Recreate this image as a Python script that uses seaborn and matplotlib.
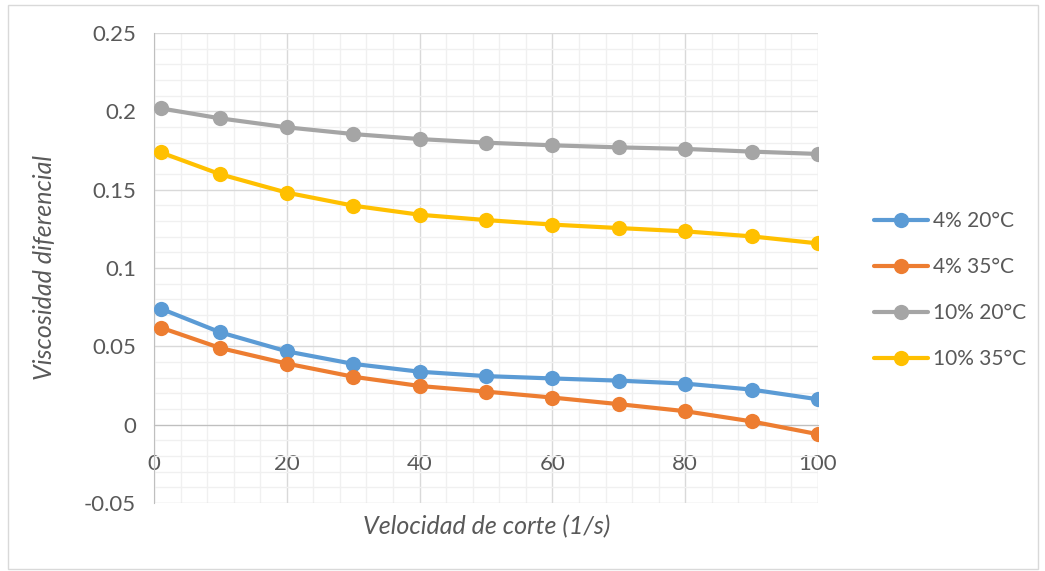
import matplotlib
matplotlib.use("Agg")
import matplotlib.pyplot as plt
import seaborn as sns
import pandas as pd
from matplotlib.patches import Rectangle
from matplotlib.ticker import MultipleLocator

shear_rate = [1, 10, 20, 30, 40, 50, 60, 70, 80, 90, 100]
s_4_20 = [0.0741, 0.0589, 0.0468, 0.0388, 0.0338, 0.0310, 0.0295, 0.0281, 0.0262, 0.0224, 0.0162]
s_4_35 = [0.0620, 0.0489, 0.0390, 0.0306, 0.0247, 0.0211, 0.0173, 0.0131, 0.0086, 0.0021, -0.0061]
s_10_20 = [0.2019, 0.1955, 0.1898, 0.1855, 0.1823, 0.1800, 0.1783, 0.1770, 0.1760, 0.1743, 0.1728]
s_10_35 = [0.1738, 0.1598, 0.1481, 0.1398, 0.1340, 0.1306, 0.1277, 0.1255, 0.1234, 0.1202, 0.1157]
series_names = ["4% 20°C", "4% 35°C", "10% 20°C", "10% 35°C"]
colors = ["#5B9BD5", "#ED7D31", "#A5A5A5", "#FFC000"]

rows = []
for name, vals in zip(series_names, [s_4_20, s_4_35, s_10_20, s_10_35]):
    for x, y in zip(shear_rate, vals):
        rows.append({"x": x, "y": y, "serie": name})
df = pd.DataFrame(rows)

sns.set_style("white")
plt.rcParams["font.family"] = ["Lato", "DejaVu Sans"]
txt = "#595959"

fig = plt.figure(figsize=(10.45, 5.71), dpi=100)
ax = fig.add_axes([154/1045, 1-503/571, (818-154)/1045, (503-33)/571])

sns.lineplot(data=df, x="x", y="y", hue="serie", hue_order=series_names,
             palette=colors, marker="o", markersize=11, markeredgewidth=0,
             linewidth=3, ax=ax, zorder=3)

ax.set_xlim(0, 100)
ax.set_ylim(-0.05, 0.25)
ax.xaxis.set_major_locator(MultipleLocator(20))
ax.xaxis.set_minor_locator(MultipleLocator(4))
ax.yaxis.set_major_locator(MultipleLocator(0.05))
ax.yaxis.set_minor_locator(MultipleLocator(0.01))
ax.grid(which="major", color="#D9D9D9", linewidth=1.0, zorder=0)
ax.grid(which="minor", color="#F0F0F0", linewidth=1.0, zorder=0)
ax.set_axisbelow(True)

for s in ["top", "right"]:
    ax.spines[s].set_visible(False)
ax.spines["left"].set_color("#BFBFBF")
ax.spines["bottom"].set_position(("data", 0))
ax.spines["bottom"].set_color("#BFBFBF")

ax.tick_params(axis="both", which="both", length=0, labelsize=16, labelcolor=txt)
ax.tick_params(axis="x", pad=21)
ax.tick_params(axis="y", pad=13)
ax.set_xticks([0, 20, 40, 60, 80, 100])
ax.set_xticklabels(["0", "20", "40", "60", "80", "100"])
ax.set_yticks([-0.05, 0, 0.05, 0.1, 0.15, 0.2, 0.25])
ax.set_yticklabels(["-0.05", "0", "0.05", "0.1", "0.15", "0.2", "0.25"])

ax.set_xlabel("")
ax.set_ylabel("")
fig.text(487/1045, 1-527/571, "Velocidad de corte (1/s)", ha="center", va="center",
         fontsize=18, style="italic", color=txt)
fig.text(45/1045, 1-268/571, "Viscosidad diferencial", ha="center", va="center",
         rotation=90, fontsize=18, style="italic", color=txt)

handles, labels = ax.get_legend_handles_labels()
ax.legend(handles, labels, loc="center left", bbox_to_anchor=(874/1045, 1-290/571),
          bbox_transform=fig.transFigure, frameon=False, fontsize=15, borderpad=0,
          borderaxespad=0, labelcolor=txt, handlelength=2.6, handletextpad=0.25,
          labelspacing=1.25)

fig.patches.append(Rectangle((8/1045, 2/571), 1030/1045, 564/571, transform=fig.transFigure,
                             fill=False, edgecolor="#D9D9D9", linewidth=1.0))

fig.savefig("out.png", dpi=100)
